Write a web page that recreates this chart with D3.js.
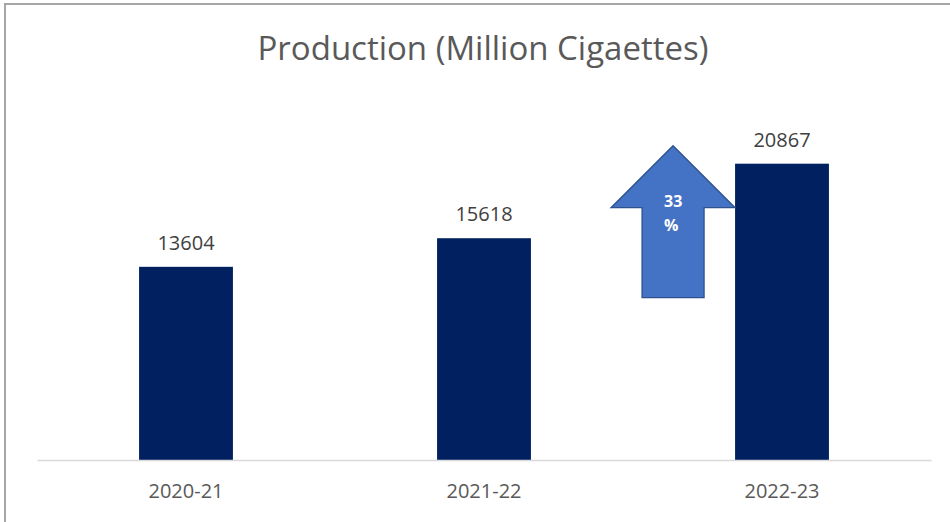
<!DOCTYPE html>
<html>
<head>
<meta charset="utf-8">
<script src="https://cdn.jsdelivr.net/npm/d3@7"></script>
<style>
  body { margin: 0; background: #fff; }
  svg { display: block; font-family: "Open Sans", "Noto Sans", sans-serif; }
</style>
</head>
<body>
<svg id="chart"></svg>
<script>
//  chart data
const years = ["2020-21", "2021-22", "2022-23"];
const production = [13604, 15618, 20867];
const growth_label = ["33", "%"];

//  draw bar chart
function draw_chart() {
  const w = 950
  const h = 522
  const margin = ({top: 105, right: 19, bottom: 62, left: 37})

  const svg = d3.select("#chart").attr("width", w).attr("height", h)

  //  frame
  svg.append("path")
     .attr("d", `M5,${h} L5,4 L${w},4`)
     .attr("fill", "none")
     .attr("stroke", "#a6a6a6")
     .attr("stroke-width", 2)

  //  title
  svg.append("text")
     .attr("x", 483)
     .attr("y", 60)
     .attr("text-anchor", "middle")
     .style("font-size", "33px")
     .style("fill", "#595959")
     .text("Production (Million Cigaettes)")

  const x = d3.scaleBand()
    .domain(years)
    .range([margin.left, w - margin.right])
    .paddingInner(0.685)
    .paddingOuter(0.3425)

  const y = d3.scaleLinear()
    .domain([0, 25000])
    .range([h - margin.bottom, margin.top])

  //  bars
  svg.selectAll("rect.bar")
     .data(production).enter().append("rect")
     .attr("class", "bar")
     .attr("x", (_, i) => x(years[i]))
     .attr("y", d => y(d))
     .attr("width", x.bandwidth())
     .attr("height", d => y(0) - y(d))
     .attr("fill", "#002060")

  //  value labels
  svg.selectAll("text.val")
     .data(production).enter().append("text")
     .attr("class", "val")
     .attr("x", (_, i) => x(years[i]) + x.bandwidth() / 2)
     .attr("y", d => y(d) - 17)
     .attr("text-anchor", "middle")
     .style("font-size", "20px")
     .style("fill", "#404040")
     .text(d => d)

  //  x axis
  const axis = svg.append("g")
    .attr("transform", `translate(0,${y(0)})`)
    .call(d3.axisBottom(x).tickSize(0).tickPadding(24))
  axis.select(".domain").attr("stroke", "#d9d9d9").attr("stroke-width", 1.5)
  axis.selectAll("text")
      .style("font-size", "20px")
      .style("font-family", "\"Open Sans\", sans-serif")
      .style("fill", "#595959")

  //  growth arrow next to last bar
  const last = years.length - 1
  const right = x(years[last])
  const top = y(production[last]) - 18
  const shoulder = top + 62
  const bottom = y(production[last]) + 134
  const arrow_w = 124
  const shaft_w = 62
  const cx = right - arrow_w / 2

  svg.append("path")
     .attr("d", d3.line()([
       [cx, top], [right, shoulder], [cx + shaft_w / 2, shoulder],
       [cx + shaft_w / 2, bottom], [cx - shaft_w / 2, bottom],
       [cx - shaft_w / 2, shoulder], [right - arrow_w, shoulder]
     ]) + "Z")
     .attr("fill", "#4472c4")
     .attr("stroke", "#2f528f")
     .attr("stroke-width", 1.3)

  growth_label.forEach((t, i) => {
    svg.append("text")
       .attr("x", cx - 9)
       .attr("y", shoulder - 1 + i * 24)
       .style("font-size", "16px")
       .style("font-weight", "bold")
       .style("fill", "#fff")
       .text(t)
  })
}

draw_chart();
</script>
</body>
</html>
